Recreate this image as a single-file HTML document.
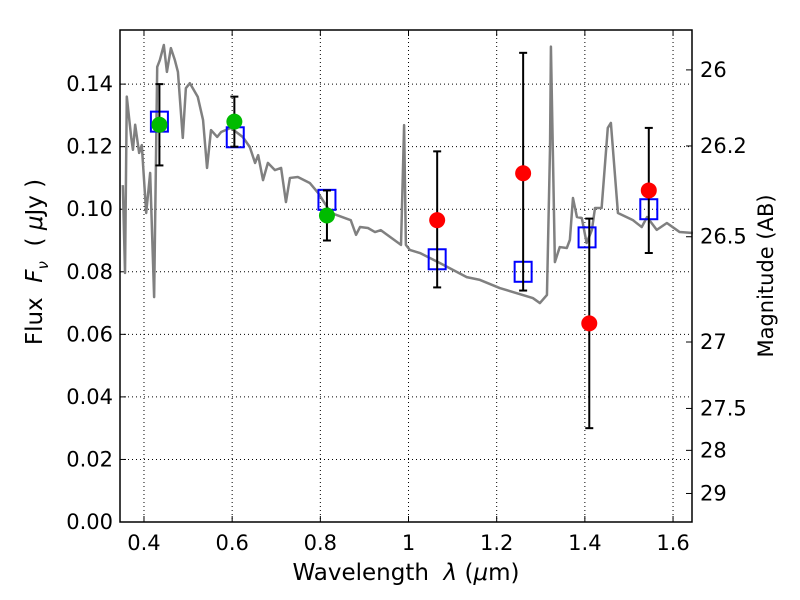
<!DOCTYPE html>
<html><head><meta charset="utf-8"><style>
body{margin:0;background:#fff;}
svg{display:block;font-family:"DejaVu Sans","Liberation Sans",sans-serif;}
</style></head><body>
<svg id="chart" width="800" height="600" viewBox="0 0 800 600"></svg>
<script>
const specWave=[0.352,0.357,0.361,0.371,0.375,0.380,0.389,0.395,0.405,0.414,0.423,0.430,0.436,0.445,0.452,0.461,0.470,0.477,0.488,0.495,0.504,0.522,0.534,0.543,0.552,0.566,0.575,0.597,0.624,0.640,0.652,0.659,0.670,0.681,0.697,0.711,0.722,0.731,0.749,0.776,0.795,0.824,0.869,0.881,0.890,0.908,0.924,0.937,0.983,0.990,0.994,1.003,1.026,1.071,1.132,1.162,1.207,1.282,1.298,1.314,1.321,1.323,1.332,1.343,1.359,1.366,1.373,1.382,1.393,1.404,1.416,1.423,1.438,1.452,1.459,1.475,1.509,1.529,1.541,1.563,1.586,1.615,1.645];
const specFlux=[0.1077,0.0796,0.136,0.123,0.119,0.127,0.118,0.1205,0.0988,0.1116,0.0719,0.1455,0.1477,0.1525,0.1439,0.1515,0.1477,0.1439,0.1228,0.1387,0.1403,0.1359,0.1285,0.1132,0.1253,0.1231,0.1247,0.126,0.1231,0.1199,0.1148,0.1173,0.1093,0.1148,0.1125,0.1132,0.1023,0.11,0.1103,0.1084,0.1052,0.0988,0.0965,0.0918,0.0943,0.094,0.0927,0.0933,0.0886,0.1269,0.0886,0.087,0.086,0.0828,0.0783,0.0774,0.0748,0.0716,0.07,0.0726,0.1199,0.152,0.0831,0.0879,0.0876,0.0902,0.1036,0.0975,0.0972,0.0892,0.0934,0.1004,0.1004,0.126,0.1276,0.0988,0.0965,0.0943,0.0975,0.0934,0.0956,0.0927,0.0924];
const greenWave=[0.435,0.605,0.815];
const greenFlux=[0.127,0.128,0.098];
const greenLo=[0.114,0.120,0.090];
const greenHi=[0.140,0.136,0.106];
const redWave=[1.065,1.26,1.41,1.545];
const redFlux=[0.0965,0.1115,0.0635,0.106];
const redLo=[0.075,0.074,0.030,0.086];
const redHi=[0.1185,0.150,0.097,0.126];
const modelWave=[0.435,0.607,0.815,1.065,1.26,1.405,1.545];
const modelFlux=[0.128,0.123,0.103,0.084,0.080,0.091,0.100];
const xTicks=[0.4,0.6,0.8,1.0,1.2,1.4,1.6];
const xTickLabels=["0.4","0.6","0.8","1","1.2","1.4","1.6"];
const yTicks=[0,0.02,0.04,0.06,0.08,0.10,0.12,0.14];
const yTickLabels=["0.00","0.02","0.04","0.06","0.08","0.10","0.12","0.14"];
const magTicks=[26,26.2,26.5,27,27.5,28,29];
const magTickLabels=["26","26.2","26.5","27","27.5","28","29"];

const L=120,R=692,T=30,B=522;
const xMin=0.3456,xMax=1.643,yMin=0,yMax=0.1573;
const X=v=>L+(v-xMin)/(xMax-xMin)*(R-L);
const Y=v=>B-(v-yMin)/(yMax-yMin)*(B-T);
const magY=m=>Y(Math.pow(10,(23.9-m)/2.5));
const svg=document.getElementById('chart');
const NS="http://www.w3.org/2000/svg";
function mk(tag,attrs,parent){const e=document.createElementNS(NS,tag);for(const k in attrs)e.setAttribute(k,attrs[k]);(parent||svg).appendChild(e);return e;}

xTicks.forEach((t,i)=>{
 const g=mk('line',{x1:X(t),x2:X(t),y1:T,y2:B,stroke:'#000','stroke-width':1,'stroke-dasharray':'1,3'});
 
 
 mk('line',{x1:X(t),x2:X(t),y1:B,y2:B-6,stroke:'#000'});
 mk('line',{x1:X(t),x2:X(t),y1:T,y2:T+6,stroke:'#000'});
 const tx=mk('text',{x:X(t),y:B+28,'font-size':21,'text-anchor':'middle'});
 tx.textContent=xTickLabels[i];
 
 
});
yTicks.forEach((t,i)=>{
 const g=mk('line',{x1:L,x2:R,y1:Y(t),y2:Y(t),stroke:'#000','stroke-width':1,'stroke-dasharray':'1,3'});
 
 
 mk('line',{x1:L,x2:L+6,y1:Y(t),y2:Y(t),stroke:'#000'});
 const tx=mk('text',{x:L-7,y:Y(t)+7,'font-size':21,'text-anchor':'end'});
 tx.textContent=yTickLabels[i];
 
 
});
magTicks.forEach((m,i)=>{
 mk('line',{x1:R,x2:R-6,y1:magY(m),y2:magY(m),stroke:'#000'});
 const tx=mk('text',{x:R+8,y:magY(m)+7,'font-size':21});
 tx.textContent=magTickLabels[i];
 
 
});

const sp=mk('polyline',{points:specWave.map((w,i)=>X(w)+','+Y(specFlux[i])).join(' '),fill:'none',stroke:'#808080','stroke-width':2.5,'stroke-linejoin':'round'});



modelWave.forEach((w,i)=>{
 const r=mk('rect',{x:X(w)-8.5,y:Y(modelFlux[i])-10,width:17,height:20,fill:'none',stroke:'#0000ff','stroke-width':2});
 
 
});
function pts(wave,flux,lo,hi,color,name){
 wave.forEach((w,i)=>{
  const x=X(w);
  mk('line',{x1:x,x2:x,y1:Y(lo[i]),y2:Y(hi[i]),stroke:'#000','stroke-width':2});
  mk('line',{x1:x-4,x2:x+4,y1:Y(lo[i]),y2:Y(lo[i]),stroke:'#000','stroke-width':2});
  mk('line',{x1:x-4,x2:x+4,y1:Y(hi[i]),y2:Y(hi[i]),stroke:'#000','stroke-width':2});
  const c=mk('circle',{cx:x,cy:Y(flux[i]),r:8,fill:color});
  
  
 });
}
pts(greenWave,greenFlux,greenLo,greenHi,'#00bb00','optical-data-point');
pts(redWave,redFlux,redLo,redHi,'#ff0000','nir-data-point');

const fr=mk('rect',{x:L,y:T,width:R-L,height:B-T,fill:'none',stroke:'#000','stroke-width':1.5});


</script>
<div style="position:absolute;left:0;top:560px;width:812px;text-align:center;font:23px 'DejaVu Sans',sans-serif;">Wavelength&nbsp; <i>λ</i> (<i>μ</i>m)</div>
<div style="position:absolute;left:37px;top:262px;transform:translate(-50%,-50%) rotate(-90deg);white-space:nowrap;font:23px 'DejaVu Sans',sans-serif;">Flux&nbsp; <i>F<sub style="font-size:15px">ν</sub></i>&nbsp; ( <i>μ</i>Jy )</div>
<div style="position:absolute;left:766px;top:276px;transform:translate(-50%,-50%) rotate(-90deg);white-space:nowrap;font:21px 'DejaVu Sans',sans-serif;">Magnitude (AB)</div>
</body></html>
